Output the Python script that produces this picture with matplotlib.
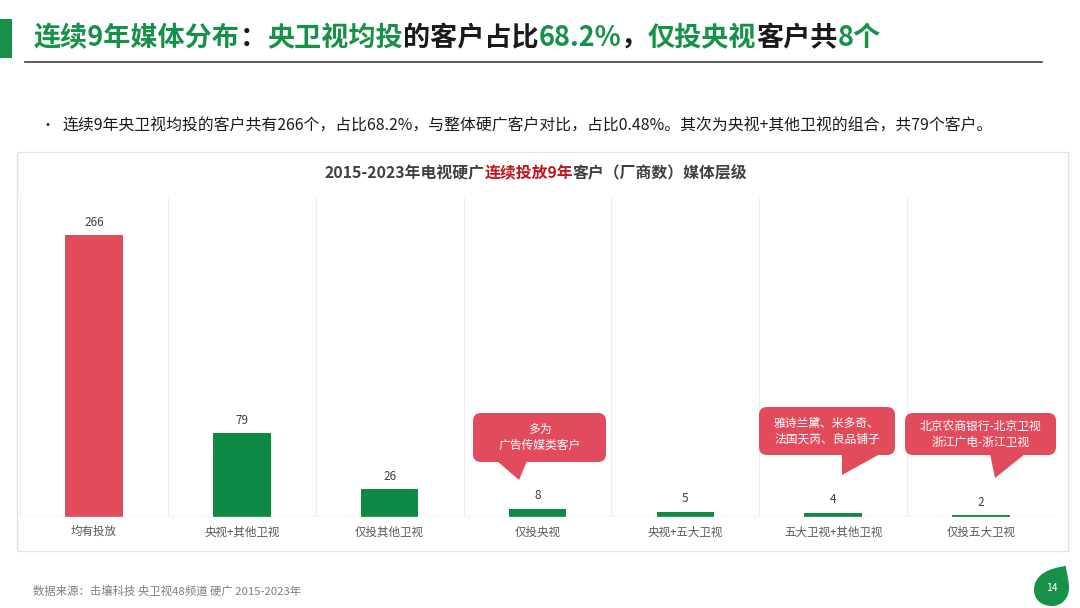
import matplotlib
matplotlib.use('Agg')
import matplotlib.pyplot as plt
from matplotlib.patches import FancyBboxPatch, Polygon, Rectangle, PathPatch
from matplotlib.path import Path
import numpy as np

plt.rcParams['font.family'] = ['Noto Sans CJK SC', 'DejaVu Sans']

# data
categories = ['均有投放', '央视+其他卫视', '仅投其他卫视', '仅投央视',
              '央视+五大卫视', '五大卫视+其他卫视', '仅投五大卫视']
values = [266, 79, 26, 8, 5, 4, 2]
bar_colors = ['#E24B5C', '#0E8A45', '#0E8A45', '#0E8A45', '#0E8A45', '#0E8A45', '#0E8A45']

callout_texts = ['多为\n广告传媒类客户',
                 '雅诗兰黛、米多奇、\n法国天芮、良品铺子',
                 '北京农商银行-北京卫视\n浙江广电-浙江卫视']

GREEN = '#17914A'
RED = '#E24B5C'
DARK = '#1A1A1A'
GRAY = '#595959'

fig = plt.figure(figsize=(10.8, 6.08), dpi=100)
fig.patch.set_facecolor('white')

# background / foreground overlays in pixel coords
bg = fig.add_axes([0, 0, 1, 1], zorder=0)
bg.set_xlim(0, 1080); bg.set_ylim(608, 0); bg.axis('off')
fg = fig.add_axes([0, 0, 1, 1], zorder=3)
fg.set_xlim(0, 1080); fg.set_ylim(608, 0); fg.axis('off')
fg.patch.set_alpha(0)

renderer = fig.canvas.get_renderer()


def draw_runs(ax, x, y, runs, size, weight='normal', ha='left'):
    texts = []
    widths = []
    for s, c in runs:
        t = ax.text(0, y, s, color=c, fontsize=size, fontweight=weight,
                    va='center', ha='left')
        w = t.get_window_extent(renderer).width
        texts.append(t)
        widths.append(w)
    total = sum(widths)
    start = x - total / 2 if ha == 'center' else x
    for t, w in zip(texts, widths):
        t.set_x(start)
        start += w


# title bar
bg.add_patch(Rectangle((0, 19), 12, 39, color=GREEN, lw=0))
draw_runs(fg, 34, 38, [('连续9年媒体分布', GREEN), ('：', DARK), ('央卫视均投', GREEN),
                       ('的客户占比', DARK), ('68.2%', GREEN), ('，', DARK),
                       ('仅投央视', GREEN), ('客户共', DARK), ('8个', GREEN)],
          19.5, 'bold')
bg.plot([25, 1042], [62, 62], color='#404040', lw=1.2)

# bullet
fg.text(40, 126, '•', fontsize=10, color=DARK, va='center')
fg.text(63, 126, '连续9年央卫视均投的客户共有266个，占比68.2%，与整体硬广客户对比，'
        '占比0.48%。其次为央视+其他卫视的组合，共79个客户。',
        fontsize=11.4, color=DARK, va='center')

# panel
bg.add_patch(Rectangle((17, 152), 1051, 399, facecolor='white',
                       edgecolor='#E3E3E3', lw=1))
draw_runs(fg, 536, 173, [('2015-2023年电视硬广', '#404040'), ('连续投放9年', '#C0141E'),
                         ('客户（厂商数）媒体层级', '#404040')], 11.4, 'bold', ha='center')

# chart
ax = fig.add_axes([20 / 1080, (608 - 517) / 608, 1035 / 1080, 319 / 608], zorder=1)
ax.patch.set_alpha(0)
x = np.arange(len(categories))
ax.bar(x, values, width=0.39, color=bar_colors, zorder=2)
for xi, v in zip(x, values):
    ax.text(xi, v + 6, str(v), ha='center', va='bottom', fontsize=8.5, color='#404040')
for k in range(len(categories) + 1):
    ax.axvline(k - 0.5, color='#EDEDED', lw=0.8, zorder=1)
ax.axhline(0, color='#D9D9D9', lw=1, zorder=3)
ax.set_xlim(-0.5, len(categories) - 0.5)
ax.set_ylim(0, 301)
ax.set_xticks(x)
ax.set_xticklabels(categories, fontsize=8.3, color=GRAY)
ax.tick_params(axis='x', length=0, pad=6)
ax.set_yticks([])
for s in ax.spines.values():
    s.set_visible(False)

# callouts: (box x0, y0, x1, y1), pointer base xs, tip
callouts = [((473, 413, 606, 462), (497, 527), (519, 480)),
            ((759, 407, 895, 455), (842, 880), (842, 475)),
            ((905, 413, 1056, 455), (990, 1025), (995, 478))]
for ((bx0, by0, bx1, by1), (px0, px1), tip), txt in zip(callouts, callout_texts):
    fg.add_patch(FancyBboxPatch((bx0, by0), bx1 - bx0, by1 - by0,
                                boxstyle='round,pad=0,rounding_size=8',
                                facecolor=RED, edgecolor='none'))
    fg.add_patch(Polygon([(px0, by1 - 1), (px1, by1 - 1), tip], closed=True,
                         facecolor=RED, edgecolor='none'))
    fg.text((bx0 + bx1) / 2, (by0 + by1) / 2, txt, ha='center', va='center',
            fontsize=8.5, color='white', linespacing=1.3)

# footer
fg.text(33, 591, '数据来源：击壤科技 央卫视48频道 硬广 2015-2023年',
        fontsize=8.2, color='#7F7F7F', va='center')

# page number leaf
leaf = Path([(1066, 566), (1050, 568), (1034, 574), (1034, 590),
             (1034, 600), (1042, 606), (1052, 606),
             (1062, 606), (1069, 598), (1069, 588),
             (1069, 578), (1066, 572), (1066, 566)],
            [Path.MOVETO, Path.CURVE4, Path.CURVE4, Path.CURVE4,
             Path.CURVE4, Path.CURVE4, Path.CURVE4,
             Path.CURVE4, Path.CURVE4, Path.CURVE4,
             Path.CURVE4, Path.CURVE4, Path.CURVE4])
fg.add_patch(PathPatch(leaf, facecolor=GREEN, edgecolor='none'))
fg.text(1052, 588, '14', ha='center', va='center', fontsize=7.5, color='white')

fig.savefig('out.png', dpi=100, facecolor='white')
